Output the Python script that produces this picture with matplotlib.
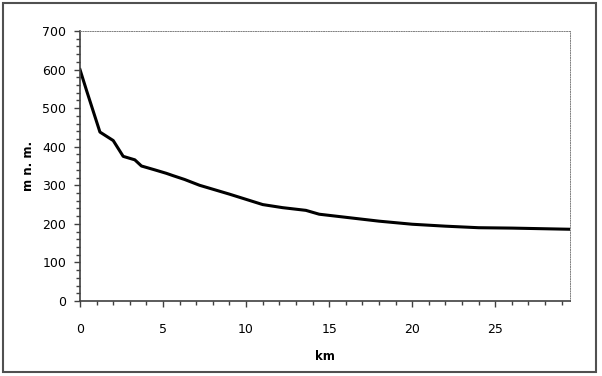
import numpy as np
import matplotlib
matplotlib.use("Agg")
import matplotlib.pyplot as plt
from matplotlib.patches import Rectangle
from matplotlib.ticker import MultipleLocator

# profile: distance (km) vs elevation (m n. m.)
km = [0, 0.4, 1.2, 2.0, 2.6, 3.3, 3.7, 4.5, 5.2, 5.6, 6.3, 7.2, 9.0, 11.0,
      12.2, 13.6, 14.4, 16.0, 18.0, 20.0, 22.0, 24.0, 26.0, 29.5]
elev = [600, 545, 438, 416, 375, 366, 350, 340, 331, 325, 315, 300, 277, 250,
        242, 235, 225, 217, 207, 199, 194, 190, 189, 186]

plt.rcParams['font.family'] = ['DejaVu Sans']

fig = plt.figure(figsize=(6.02, 3.76), dpi=100)
ax = fig.add_axes([80/602, 75/376, 490/602, 270/376])

ax.plot(km, elev, color='black', lw=2.2, solid_joinstyle='round')

ax.set_xlim(0, 29.5)
ax.set_ylim(0, 700)
ax.xaxis.set_major_locator(MultipleLocator(5))
ax.xaxis.set_minor_locator(MultipleLocator(1))
ax.yaxis.set_major_locator(MultipleLocator(100))
ax.yaxis.set_minor_locator(MultipleLocator(20))

ax.tick_params(which='major', direction='out', length=4, width=1, color='#404040',
               labelsize=9)
ax.tick_params(which='minor', direction='out', length=3, width=1, color='#404040')
ax.tick_params(axis='x', which='major', pad=12)
ax.tick_params(axis='y', which='major', pad=6)

for s in ['left', 'bottom']:
    ax.spines[s].set_color('#404040')
    ax.spines[s].set_linewidth(1.2)
for s in ['top', 'right']:
    ax.spines[s].set_color('#808080')
    ax.spines[s].set_linewidth(0.7)
    ax.spines[s].set_linestyle((0, (1, 1.5)))

ax.set_xlabel('km', fontsize=8.5, fontweight='bold', labelpad=10)
ax.set_ylabel('m n. m.', fontsize=8.5, fontweight='bold', labelpad=5)

# outer chart border
fig.patches.append(Rectangle((3/602, 4/376), 593/602, 369/376, transform=fig.transFigure,
                             fill=False, edgecolor='#505050', lw=1.5))

plt.savefig('out.png', dpi=100)
